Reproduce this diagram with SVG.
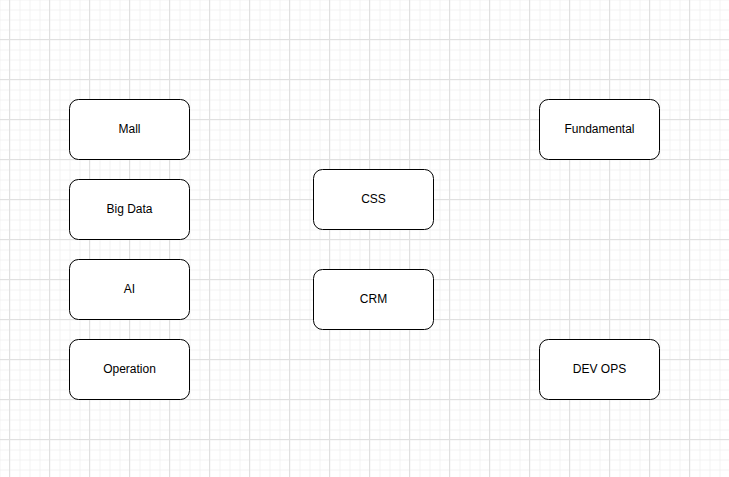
<svg xmlns="http://www.w3.org/2000/svg" width="729" height="477" viewBox="0 0 729 477">
<defs>
<pattern id="minor" x="-0.5" y="-0.5" width="10" height="10" patternUnits="userSpaceOnUse">
<path d="M0 0.5H10M0.5 0V10" fill="none" stroke="#f2f2f2" stroke-width="1"/>
</pattern>
<pattern id="major" x="9" y="-1" width="40" height="40" patternUnits="userSpaceOnUse">
<path d="M0 0.5H40M0.5 0V40" fill="none" stroke="#e0e0e0" stroke-width="1"/>
</pattern>
</defs>
<style>
.box{fill:#ffffff;stroke:#000000;stroke-width:1}
.lbl{font-family:"Liberation Sans",Arial,sans-serif;font-size:12px;fill:#000000;text-anchor:middle;dominant-baseline:central}
</style>
<rect width="729" height="477" fill="#ffffff"/>
<rect width="729" height="477" fill="url(#minor)"/>
<rect width="729" height="477" fill="url(#major)"/>
<g id="connectors"></g>
<g id="mall"><rect class="box" x="69.5" y="99.5" width="120" height="60" rx="9"/><text class="lbl" x="129.5" y="128.5">Mall</text></g>
<g id="bigdata"><rect class="box" x="69.5" y="179.5" width="120" height="60" rx="9"/><text class="lbl" x="129.5" y="208.5">Big Data</text></g>
<g id="ai"><rect class="box" x="69.5" y="259.5" width="120" height="60" rx="9"/><text class="lbl" x="129.5" y="288.5">AI</text></g>
<g id="operation"><rect class="box" x="69.5" y="339.5" width="120" height="60" rx="9"/><text class="lbl" x="129.5" y="368.5">Operation</text></g>
<g id="css"><rect class="box" x="313.5" y="169.5" width="120" height="60" rx="9"/><text class="lbl" x="373.5" y="198.5">CSS</text></g>
<g id="crm"><rect class="box" x="313.5" y="269.5" width="120" height="60" rx="9"/><text class="lbl" x="373.5" y="298.5">CRM</text></g>
<g id="fundamental"><rect class="box" x="539.5" y="99.5" width="120" height="60" rx="9"/><text class="lbl" x="599.5" y="128.5">Fundamental</text></g>
<g id="devops"><rect class="box" x="539.5" y="339.5" width="120" height="60" rx="9"/><text class="lbl" x="599.5" y="368.5">DEV OPS</text></g>
</svg>
